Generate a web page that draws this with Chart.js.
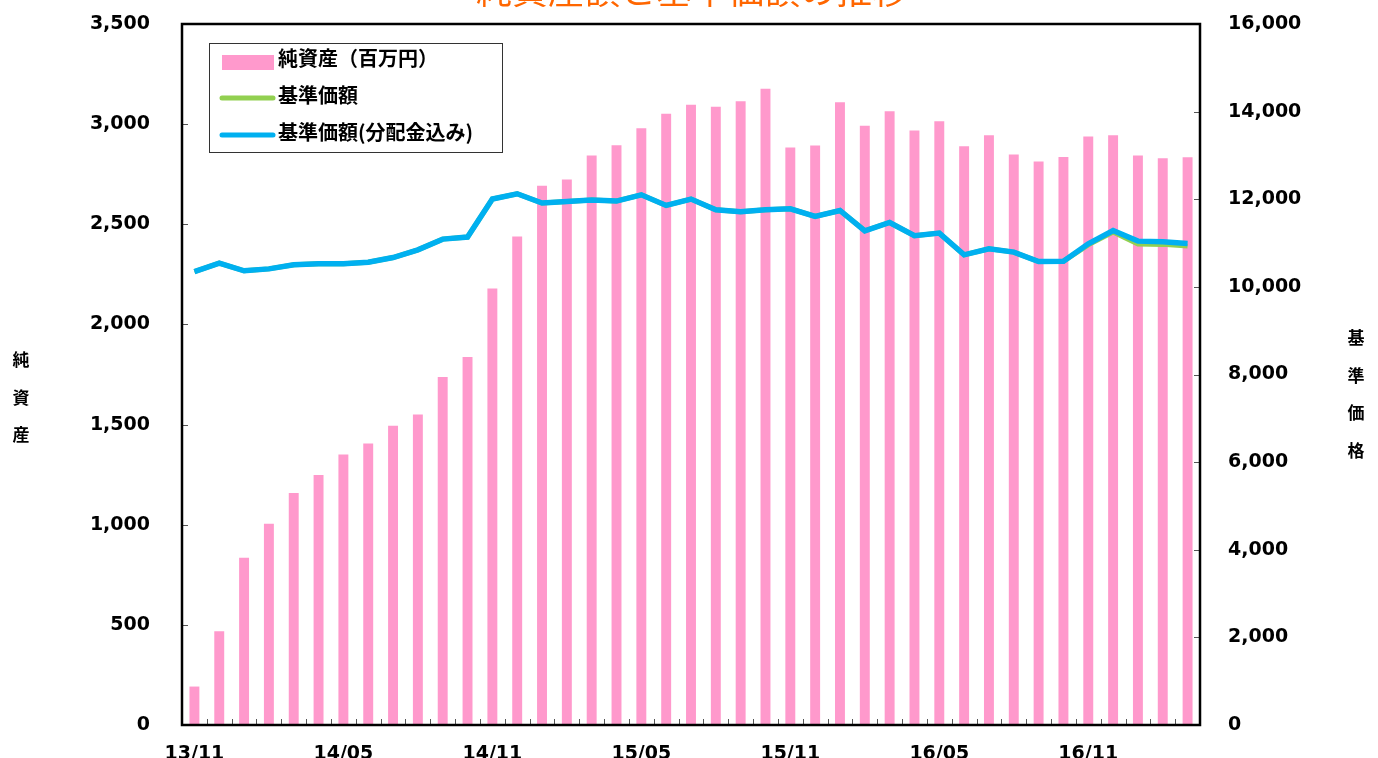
<!DOCTYPE html>
<html>
<head>
<meta charset="utf-8">
<script src="https://cdn.jsdelivr.net/npm/chart.js@4.4.1/dist/chart.umd.min.js"></script>
<style>
  html, body { margin: 0; padding: 0; background: #fff; }
  #wrap { width: 1378px; height: 758px; }
</style>
</head>
<body>
<div id="wrap"><canvas id="navChart" width="1378" height="758"></canvas></div>
<script>
// --- data ---
const months = [
  "13/11", "13/12", "14/01", "14/02", "14/03", "14/04", "14/05", "14/06", "14/07", "14/08", "14/09", "14/10",
  "14/11", "14/12", "15/01", "15/02", "15/03", "15/04", "15/05", "15/06", "15/07", "15/08", "15/09", "15/10",
  "15/11", "15/12", "16/01", "16/02", "16/03", "16/04", "16/05", "16/06", "16/07", "16/08", "16/09", "16/10",
  "16/11", "16/12", "17/01", "17/02", "17/03"
];
// 純資産（百万円）
const netAssets = [
  192, 468, 835, 1005, 1158, 1248, 1350, 1405, 1494, 1550, 1738, 1837,
  2180, 2439, 2693, 2723, 2844, 2894, 2979, 3052, 3097, 3087, 3114, 3177,
  2884, 2893, 3109, 2992, 3064, 2968, 3014, 2889, 2944, 2848, 2813, 2836,
  2938, 2944, 2843, 2830, 2835
];
// 基準価額
const navPrice = [
  10350, 10542, 10366, 10411, 10503, 10526, 10526, 10564, 10670, 10846, 11090, 11136,
  12004, 12125, 11913, 11950, 11981, 11959, 12102, 11858, 12004, 11760, 11714, 11760,
  11782, 11607, 11744, 11280, 11470, 11166, 11227, 10731, 10869, 10793, 10579, 10587,
  10960, 11250, 10980, 10970, 10930
];
// 基準価額(分配金込み)
const navWithDist = [
  10350, 10542, 10366, 10411, 10503, 10526, 10526, 10564, 10670, 10846, 11090, 11136,
  12004, 12125, 11913, 11950, 11981, 11959, 12102, 11858, 12004, 11760, 11714, 11760,
  11782, 11607, 11744, 11280, 11470, 11166, 11227, 10731, 10869, 10793, 10579, 10587,
  10983, 11287, 11044, 11029, 10990
];
const leftTicks = { min: 0, max: 3500, step: 500 };
const rightTicks = { min: 0, max: 16000, step: 2000 };

const numFont = { family: "'DejaVu Sans', Verdana, sans-serif", size: 19, weight: "bold" };
const jpFont = "'Noto Sans CJK JP', sans-serif";

// title (half cut off at the top edge), vertical axis titles, legend box, inner ticks and frame
const decorations = {
  id: "decorations",
  afterDraw(chart) {
    const ctx = chart.ctx;
    const area = chart.chartArea;
    const x = chart.scales.x, yL = chart.scales.y, yR = chart.scales.y1;
    ctx.save();

    // title
    ctx.fillStyle = "#FF6600";
    ctx.font = "36px " + jpFont;
    ctx.textAlign = "center";
    ctx.textBaseline = "middle";
    ctx.fillText("純資産額と基準価額の推移", 692, -10);

    // axis titles, one character per row
    ctx.fillStyle = "#000";
    ctx.font = "bold 17px " + jpFont;
    ["純", "資", "産"].forEach((c, i) => ctx.fillText(c, 21, 360 + i * 37.5));
    ["基", "準", "価", "格"].forEach((c, i) => ctx.fillText(c, 1356, 338 + i * 37.5));

    // tick marks pointing into the plot
    ctx.strokeStyle = "#555";
    ctx.lineWidth = 1;
    ctx.beginPath();
    for (let v = leftTicks.min; v <= leftTicks.max; v += leftTicks.step) {
      const py = Math.round(yL.getPixelForValue(v)) + 0.5;
      ctx.moveTo(area.left, py); ctx.lineTo(area.left + 6, py);
    }
    for (let v = rightTicks.min; v <= rightTicks.max; v += rightTicks.step) {
      const py = Math.round(yR.getPixelForValue(v)) + 0.5;
      ctx.moveTo(area.right, py); ctx.lineTo(area.right - 6, py);
    }
    for (let i = 0; i < months.length - 1; i++) {
      const px = Math.round((x.getPixelForValue(i) + x.getPixelForValue(i + 1)) / 2) + 0.5;
      ctx.moveTo(px, area.bottom); ctx.lineTo(px, area.bottom - 6);
    }
    ctx.stroke();

    // frame
    ctx.strokeStyle = "#000";
    ctx.lineWidth = 2.5;
    ctx.strokeRect(area.left, area.top, area.right - area.left, area.bottom - area.top);

    // legend
    ctx.fillStyle = "#fff";
    ctx.fillRect(209.5, 43.5, 293, 109);
    ctx.strokeStyle = "#333";
    ctx.lineWidth = 1;
    ctx.strokeRect(209.5, 43.5, 293, 109);
    const ds = chart.data.datasets;
    const rows = [58, 95, 132];
    ctx.font = "bold 20px " + jpFont;
    ctx.textAlign = "left";
    ctx.textBaseline = "middle";
    ds.forEach((d, i) => {
      const ry = rows[i];
      if (d.type === "bar") {
        ctx.fillStyle = d.backgroundColor;
        ctx.fillRect(222, ry - 3, 52, 15);
      } else {
        ctx.strokeStyle = d.borderColor;
        ctx.lineWidth = 5;
        ctx.lineCap = "round";
        ctx.beginPath();
        ctx.moveTo(222, ry + 3); ctx.lineTo(273, ry + 3);
        ctx.stroke();
      }
      ctx.fillStyle = "#000";
      ctx.fillText(d.label, 278, ry);
    });
    ctx.restore();
  }
};

new Chart(document.getElementById("navChart").getContext("2d"), {
  data: {
    labels: months,
    datasets: [
      {
        type: "bar",
        label: "純資産（百万円）",
        data: netAssets,
        backgroundColor: "#FF99CC",
        barPercentage: 0.4,
        categoryPercentage: 1,
        yAxisID: "y",
        order: 3,
      },
      {
        type: "line",
        label: "基準価額",
        data: navPrice,
        borderColor: "#92D050",
        borderWidth: 5,
        pointRadius: 0,
        tension: 0,
        yAxisID: "y1",
        order: 2,
      },
      {
        type: "line",
        label: "基準価額(分配金込み)",
        data: navWithDist,
        borderColor: "#00B0F0",
        borderWidth: 5.5,
        pointRadius: 0,
        tension: 0,
        yAxisID: "y1",
        order: 1,
      },
    ],
  },
  options: {
    responsive: false,
    animation: false,
    layout: { padding: { top: 24, left: 0, right: 0, bottom: 0 } },
    plugins: {
      legend: { display: false },
      title: { display: false },
      tooltip: { enabled: false },
    },
    scales: {
      x: {
        offset: true,
        grid: { display: false },
        border: { display: false },
        ticks: {
          autoSkip: false,
          maxRotation: 0,
          padding: 10,
          color: "#000",
          font: numFont,
          callback: (v, i) => (i % 6 === 0 ? months[i] : ""),
        },
        afterFit: (s) => { s.height = 33; s.paddingLeft = 0; s.paddingRight = 0; },
      },
      y: {
        position: "left",
        min: leftTicks.min,
        max: leftTicks.max,
        grid: { display: false },
        border: { display: false },
        ticks: {
          stepSize: leftTicks.step,
          padding: 24,
          color: "#000",
          font: numFont,
          callback: (v) => v.toLocaleString("en-US"),
        },
        afterFit: (s) => { s.width = 182; s.paddingTop = 0; s.paddingBottom = 0; },
      },
      y1: {
        position: "right",
        min: rightTicks.min,
        max: rightTicks.max,
        grid: { display: false },
        border: { display: false },
        ticks: {
          stepSize: rightTicks.step,
          padding: 20,
          color: "#000",
          font: numFont,
          callback: (v) => v.toLocaleString("en-US"),
        },
        afterFit: (s) => { s.width = 178; s.paddingTop = 0; s.paddingBottom = 0; },
      },
    },
  },
  plugins: [decorations],
});
</script>
</body>
</html>
